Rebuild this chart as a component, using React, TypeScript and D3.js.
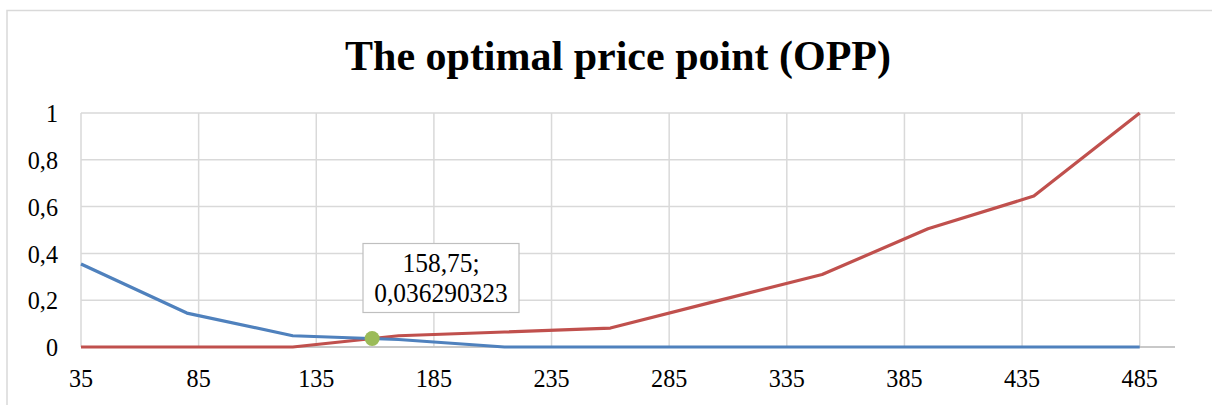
import React from "react";
import * as d3 from "d3";

const prices = [35, 80, 125, 170, 215, 260, 305, 350, 395, 440, 485];
const tooCheap = [0.355, 0.145, 0.048, 0.032, 0, 0, 0, 0, 0, 0, 0];
const tooExpensive = [0, 0, 0, 0.048, 0.064, 0.081, 0.196, 0.31, 0.505, 0.645, 1];
const xTicks = [35, 85, 135, 185, 235, 285, 335, 385, 435, 485];
const yTicks = [0, 0.2, 0.4, 0.6, 0.8, 1];
const oppPoint = { x: 158.75, y: 0.036290323 };
const oppLabel = ["158,75;", "0,036290323"];
const title = "The optimal price point (OPP)";

const W = 1212;
const H = 405;
const m = { left: 81, right: 1175, top: 113, bottom: 347 };

export default function App() {
  const x = d3.scaleLinear().domain([35, 500]).range([m.left, m.right]);
  const y = d3.scaleLinear().domain([0, 1]).range([m.bottom, m.top]);
  const line = d3
    .line<[number, number]>()
    .x((d) => x(d[0]))
    .y((d) => y(d[1]));
  const blue = line(prices.map((p, i) => [p, tooCheap[i]] as [number, number])) || "";
  const red = line(prices.map((p, i) => [p, tooExpensive[i]] as [number, number])) || "";
  const fmt = (v: number) => String(v).replace(".", ",");
  const font = "'Liberation Serif', 'Times New Roman', serif";
  const px = x(oppPoint.x);
  const py = y(oppPoint.y);
  const sx = 0.93;

  return (
    <svg
      width={W}
      height={H}
      style={{ position: "absolute", left: 0, top: 0, background: "#fff" }}
      fontFamily={font}
    >
      <rect x={7} y={10.5} width={W + 10} height={H + 10} fill="#fff" stroke="#d9d9d9" strokeWidth={1.5} />
      <text x={618} y={70} textAnchor="middle" fontSize={42} fontWeight="bold" fill="#000">
        {title}
      </text>
      {yTicks.map((t) => (
        <line key={"gy" + t} x1={m.left} x2={m.right} y1={y(t)} y2={y(t)} stroke="#d9d9d9" strokeWidth={1.5} />
      ))}
      {xTicks.map((t) => (
        <line key={"gx" + t} x1={x(t)} x2={x(t)} y1={m.top} y2={m.bottom} stroke="#d9d9d9" strokeWidth={1.5} />
      ))}
      <line x1={m.left} x2={m.right} y1={m.bottom} y2={m.bottom} stroke="#bfbfbf" strokeWidth={1.5} />
      {yTicks.map((t) => (
        <text
          key={"ly" + t}
          transform={`translate(58,${y(t)}) scale(${sx},1)`}
          dy="0.35em"
          textAnchor="end"
          fontSize={26}
          fill="#000"
        >
          {fmt(t)}
        </text>
      ))}
      {xTicks.map((t) => (
        <text
          key={"lx" + t}
          transform={`translate(${x(t)},387) scale(${sx},1)`}
          textAnchor="middle"
          fontSize={26}
          fill="#000"
        >
          {t}
        </text>
      ))}
      <path d={red} fill="none" stroke="#C0504D" strokeWidth={3.2} strokeLinejoin="round" />
      <path d={blue} fill="none" stroke="#4F81BD" strokeWidth={3.2} strokeLinejoin="round" />
      <circle cx={px} cy={py} r={7.5} fill="#9BBB59" />
      <rect x={363} y={243.5} width={156} height={69} fill="#fff" stroke="#bfbfbf" strokeWidth={1.2} />
      {oppLabel.map((s, i) => (
        <text
          key={s}
          transform={`translate(441,${272 + i * 30}) scale(0.96,1)`}
          textAnchor="middle"
          fontSize={26.5}
          fill="#000"
        >
          {s}
        </text>
      ))}
    </svg>
  );
}
